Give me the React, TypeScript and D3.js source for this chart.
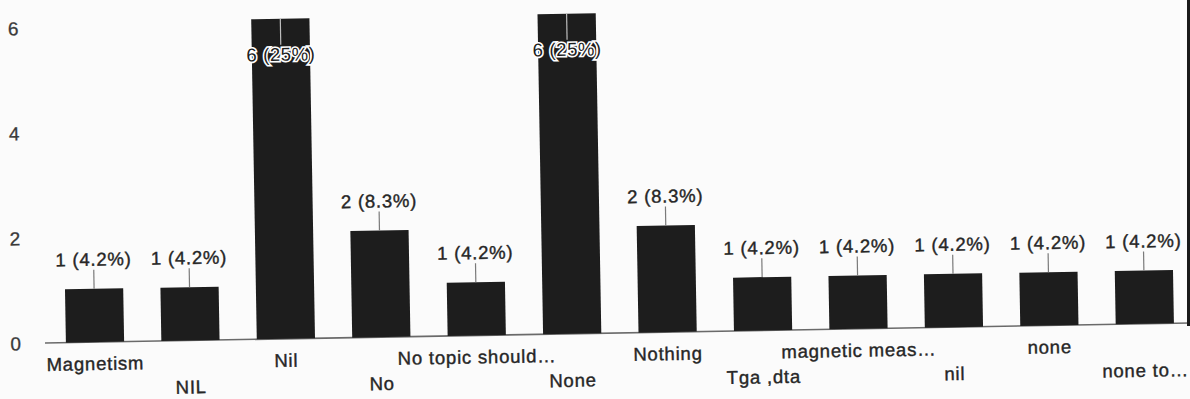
import React from "react";
import * as d3 from "d3";

const categories = [
  "Magnetism", "NIL", "Nil", "No", "No topic should…", "None",
  "Nothing", "Tga ,dta", "magnetic meas…", "nil", "none", "none to…",
];
const counts = [1, 1, 6, 2, 1, 6, 2, 1, 1, 1, 1, 1];
const percents = ["4.2%", "4.2%", "25%", "8.3%", "4.2%", "25%", "8.3%", "4.2%", "4.2%", "4.2%", "4.2%", "4.2%"];
const yTicks = [0, 2, 4, 6];

const W = 1190;
const H = 399;
const FONT = "'Liberation Sans', Arial, sans-serif";
const INK = "#262626";

export default function App() {
  const x = d3
    .scaleBand<string>()
    .domain(categories)
    .range([47.3, 1192.7])
    .paddingInner(0.39)
    .paddingOuter(0.195);
  const y = d3.scaleLinear().domain([0, 6]).range([343, 23]);
  const yTickScale = d3.scaleLinear().domain([0, 6]).range([343, 28]);
  const bw = x.bandwidth();

  return (
    <svg
      width={W}
      height={H}
      style={{ position: "absolute", left: 0, top: 0, background: "#fbfbfb" }}
      fontFamily={FONT}
    >
      <g transform="rotate(-1, 45, 343)">
        {yTicks.map((t) => (
          <text
            key={t}
            x={21 + t * 0.5}
            y={yTickScale(t)}
            dy="0.36em"
            textAnchor="end"
            fontSize={19}
            fill="#3a3a3a"
            stroke="#3a3a3a"
            strokeWidth={0.3}
          >
            {t}
          </text>
        ))}
        <line x1={45} x2={1200} y1={y(0)} y2={y(0)} stroke="#6a6a6a" strokeWidth={1.6} />
        {categories.map((c, i) => {
          const cx = (x(c) as number) + bw / 2;
          const top = y(counts[i]);
          const big = counts[i] >= 6;
          const label = `${counts[i]} (${percents[i]})`;
          return (
            <g key={c}>
              <rect x={x(c)} y={top} width={bw} height={y(0) - top} fill="#1d1d1d" />
              {big ? (
                <>
                  <line x1={cx} x2={cx} y1={top} y2={top + 26} stroke="#bdbdbd" strokeWidth={1.2} />
                  <text
                    x={cx}
                    y={top + 42}
                    textAnchor="middle"
                    fontSize={18.5}
                    letterSpacing={0.6}
                    fill="#1d1d1d"
                    stroke="#ffffff"
                    strokeWidth={3.2}
                    paintOrder="stroke"
                  >
                    {label}
                  </text>
                </>
              ) : (
                <>
                  <line x1={cx} x2={cx} y1={top - 19} y2={top} stroke="#7a7a7a" strokeWidth={1.2} />
                  <text
                    x={cx}
                    y={top - 23}
                    textAnchor="middle"
                    fontSize={18.5}
                    letterSpacing={0.8}
                    fill={INK}
                    stroke={INK}
                    strokeWidth={0.4}
                  >
                    {label}
                  </text>
                </>
              )}
              <text
                x={cx}
                y={i % 2 === 0 ? 371 : 396}
                textAnchor="middle"
                fontSize={18.5}
                letterSpacing={0.8}
                fill={INK}
                stroke={INK}
                strokeWidth={0.4}
              >
                {c}
              </text>
            </g>
          );
        })}
      </g>
      <rect x={1187} y={0} width={3} height={326} fill="#1a1a1a" />
    </svg>
  );
}
